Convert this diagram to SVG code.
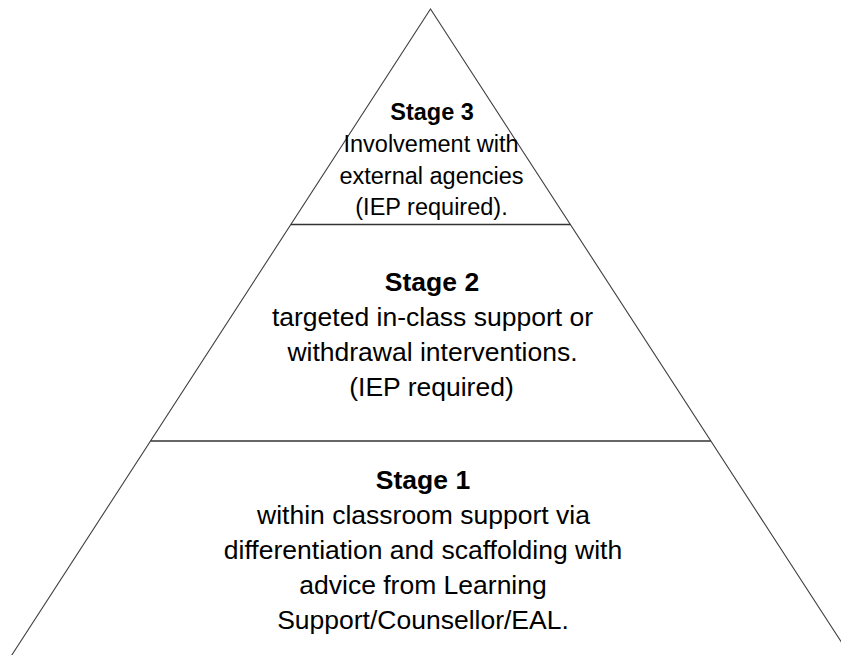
<svg xmlns="http://www.w3.org/2000/svg" width="841" height="655" viewBox="0 0 841 655">
<style>
.edge{fill:none;stroke:#404040;stroke-width:1.1}
.div{stroke:#333;stroke-width:1.6}
.t{font-family:"Liberation Sans",Arial,sans-serif;fill:#000;text-anchor:middle}
.big{font-size:26.5px}
.small{font-size:23.5px}
.b{font-weight:bold}
</style>
<rect width="841" height="655" fill="#fff"/>
<g id="pyramid">
<polyline class="edge" points="8.6,660 430.5,9 853,660"/>
</g>
<g id="dividers">
<line class="div" x1="290.8" y1="224.5" x2="570.4" y2="224.5"/>
<line class="div" x1="150.5" y1="441" x2="710.9" y2="441"/>
</g>
<g id="stage3">
<text class="t small b" x="432" y="120">Stage 3</text>
<text class="t small" x="431" y="152">Involvement with</text>
<text class="t small" x="431.5" y="184">external agencies</text>
<text class="t small" x="431.5" y="215">(IEP required).</text>
</g>
<g id="stage2">
<text class="t big b" x="432" y="291">Stage 2</text>
<text class="t big" x="432.5" y="325.5">targeted in-class support or</text>
<text class="t big" x="432.5" y="360.5">withdrawal interventions.</text>
<text class="t big" x="431.5" y="395.5">(IEP required)</text>
</g>
<g id="stage1">
<text class="t big b" x="423" y="489">Stage 1</text>
<text class="t big" x="423.5" y="524">within classroom support via</text>
<text class="t big" x="423" y="559">differentiation and scaffolding with</text>
<text class="t big" x="423" y="594">advice from Learning</text>
<text class="t big" x="423" y="629">Support/Counsellor/EAL.</text>
</g>
</svg>
